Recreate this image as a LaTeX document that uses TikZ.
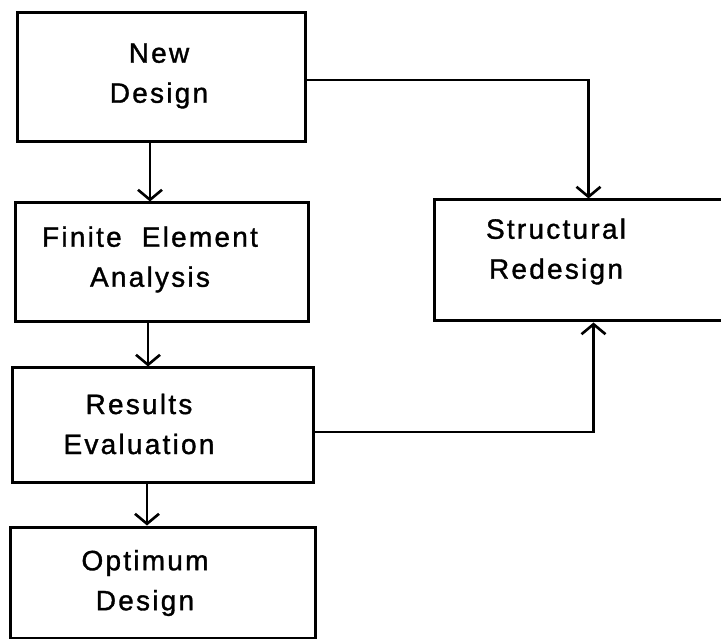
\documentclass[tikz,border=0pt]{standalone}
\usepackage{fontspec}
\setmainfont{Liberation Sans}[LetterSpace=8, WordSpace=2, FakeBold=1.2]
\usetikzlibrary{arrows.meta}

\tikzset{
  block/.style={draw, line width=3pt, inner sep=0pt},
  caption/.style={align=center, font=\fontsize{28}{40}\selectfont},
  flow/.style={line width=2.6pt, -{Straight Barb[length=10pt,width=24pt]}},
}

\begin{document}
\begin{tikzpicture}[x=1pt, y=-1pt]
    \useasboundingbox (0,0) rectangle (721,639);
    \clip (0,0) rectangle (721,639);

    % the main column, top to bottom
    \node[block, minimum width=288pt, minimum height=129pt] (design) at (161,77.5) {};
    \node[block, minimum width=293pt, minimum height=119pt] (fea) at (161.5,262.5) {};
    \node[block, minimum width=301pt, minimum height=114pt] (eval) at (162.5,425) {};
    \node[block, minimum width=305pt, minimum height=111pt] (optimum) at (162.5,582.5) {};

    % redesign box runs off the right edge
    \node[block, minimum width=320pt, minimum height=121pt] (redesign) at (594,260.5) {};

    \node[caption] (design-txt) at (159,76) {New\\Design};
    \node[caption] (fea-txt) at (150,259.5) {Finite Element\\Analysis};
    \node[caption] (eval-txt) at (139,424) {Results\\Evaluation};
    \node[caption] (optimum-txt) at (145,583) {Optimum\\Design};
    \node[caption] (redesign-txt) at (556,251.5) {Structural\\Redesign};

    \draw[flow] ([xshift=-11pt]design.south) -- ([xshift=-11pt]design.south |- fea.north);
    \draw[flow] ([xshift=-13.5pt]fea.south) -- ([xshift=-13.5pt]fea.south |- eval.north);
    \draw[flow] ([xshift=-15.5pt]eval.south) -- ([xshift=-15.5pt]eval.south |- optimum.north);

    % loop back through the redesign step
    \draw[flow] ([yshift=-2.5pt]design.east) -| ([xshift=156pt]redesign.north west);
    \draw[flow] ([yshift=-7pt]eval.east) -| ([xshift=161pt]redesign.south west);
\end{tikzpicture}
\end{document}
